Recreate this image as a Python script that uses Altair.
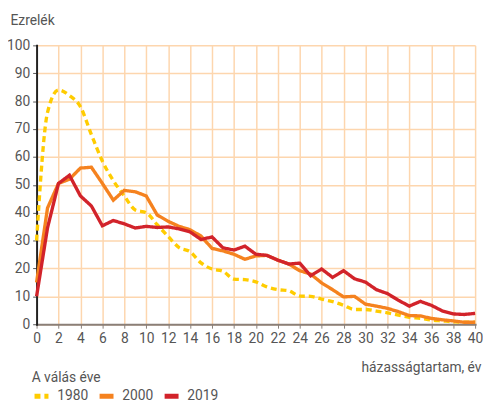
import altair as alt
import pandas as pd

years = list(range(0, 41))
v1980 = [30, 76, 84, 82, 78, 68, 58.5, 51.5, 46, 41, 40, 35.7, 31.5, 27.5, 26, 22, 19.8, 19, 16.2, 16,
         15.2, 13.4, 12.4, 12, 10.1, 10, 9, 8.1, 6.8, 5.3, 5.3, 4.7, 4.1, 3.3, 2.5, 2.1, 1.5, 1.2, 0.9, 0.7, 0.7]
v2000 = [15, 41.7, 50.5, 52, 56, 56.3, 50.5, 44.5, 48, 47.5, 46, 39.2, 36.9, 35.1, 33.9, 31.6, 27.2, 26.3, 25.1, 23.3,
         24.5, 24.7, 23, 21.6, 19.2, 18, 14.8, 12.4, 9.8, 10, 7.2, 6.5, 5.7, 4.5, 3.1, 3.0, 2.1, 1.6, 1.2, 0.7, 0.7]
v2019 = [10, 34.6, 50.5, 53.4, 46, 42.4, 35.3, 37.2, 36, 34.5, 35.1, 34.7, 34.9, 34.2, 33.1, 30.4, 31.3, 27.4, 26.6, 28,
         25.1, 24.7, 23, 21.6, 21.9, 17.4, 19.8, 16.8, 19.2, 16.3, 15.1, 12.4, 11, 8.6, 6.5, 8.2, 6.8, 4.8, 3.7, 3.5, 3.9]
series = ["1980", "2000", "2019"]
colors = ["#FFCC00", "#F5821F", "#D2232A"]
dashes = [[6, 4], [1, 0], [1, 0]]

rows = []
for s, vals in zip(series, [v1980, v2000, v2019]):
    for x, v in zip(years, vals):
        rows.append({"x": x, "v": v, "s": s})
df = pd.DataFrame(rows)

font = "Roboto"
gray = "#555555"

leg = dict(title="A válás éve", orient="none", legendX=-5, legendY=331,
           direction="horizontal", symbolType="stroke", symbolStrokeWidth=5,
           symbolSize=200, titleFont=font, titleFontSize=14, titleFontWeight="normal",
           titleColor=gray, labelFont=font, labelFontSize=14, labelColor=gray,
           columnPadding=0, titlePadding=1, labelOffset=6, rowPadding=0)
color_enc = alt.Color("s:N", scale=alt.Scale(domain=series, range=colors), legend=alt.Legend(**leg))
dash_enc = alt.StrokeDash("s:N", scale=alt.Scale(domain=series, range=dashes), legend=alt.Legend(**leg))

x_enc = alt.X("x:Q", scale=alt.Scale(domain=[0, 40], nice=False),
              axis=alt.Axis(values=list(range(0, 41, 2)), title="házasságtartam, év",
                            titleFont=font, titleFontSize=14, titleFontWeight="normal", titleColor=gray,
                            titleAnchor="end", titleAlign="right", titleX=451, titleY=48, titleBaseline="alphabetic",
                            labelFont=font, labelFontSize=14, labelColor=gray, labelPadding=4,
                            labelOverlap=False, labelFlush=False,
                            domainColor="#8a7f78", domainWidth=2, tickColor="#8a7f78", tickSize=4,
                            gridColor="#FDD6AE", gridWidth=1.5))
y_enc = alt.Y("v:Q", scale=alt.Scale(domain=[0, 100], nice=False),
              axis=alt.Axis(values=list(range(0, 101, 10)), title="Ezrelék",
                            titleFont=font, titleFontSize=14, titleFontWeight="normal", titleColor=gray,
                            titleAngle=0, titleAlign="left", titleX=-27, titleY=-21, titleBaseline="alphabetic",
                            labelFont=font, labelFontSize=14, labelColor=gray, labelPadding=3,
                            labelOverlap=False, labelFlush=False,
                            domainColor="#222222", domainWidth=2, tickColor="#555555", tickSize=4,
                            gridColor="#FDD6AE", gridWidth=1.5))

base = alt.Chart(df)
l1980 = base.transform_filter(alt.datum.s == "1980").mark_line(strokeWidth=3.4, interpolate="monotone").encode(
    x=x_enc, y=y_enc, color=color_enc, strokeDash=dash_enc)
lother = base.transform_filter(alt.datum.s != "1980").mark_line(strokeWidth=3.4).encode(
    x=x_enc, y=y_enc, color=color_enc, strokeDash=dash_enc, order="s:N")

chart = alt.layer(l1980, lother).properties(
    width=445, height=283,
    padding={"left": 29, "top": 35, "right": 8, "bottom": 76},
    autosize=alt.AutoSizeParams(type="none"),
).configure_view(stroke=None).configure_axis(domainCap="square")

chart.save("out.html", embed_options={"renderer": "svg", "actions": False})
